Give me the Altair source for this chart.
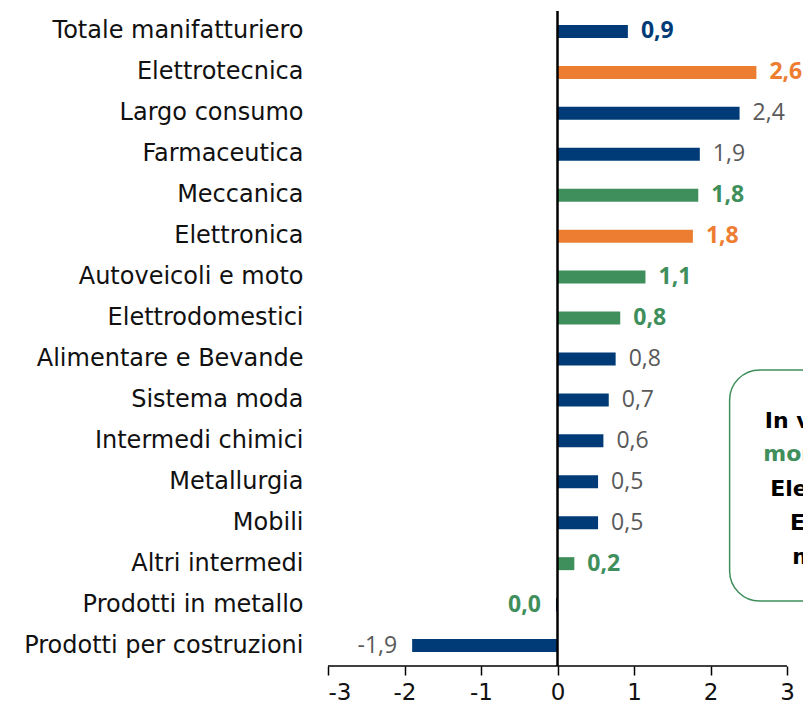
import altair as alt
import pandas as pd

categories = [
    "Totale manifatturiero", "Elettrotecnica", "Largo consumo", "Farmaceutica",
    "Meccanica", "Elettronica", "Autoveicoli e moto", "Elettrodomestici",
    "Alimentare e Bevande", "Sistema moda", "Intermedi chimici", "Metallurgia",
    "Mobili", "Altri intermedi", "Prodotti in metallo", "Prodotti per costruzioni",
]
values = [0.92, 2.6, 2.38, 1.86, 1.84, 1.77, 1.15, 0.82, 0.76, 0.67, 0.6, 0.53, 0.53, 0.22, -0.02, -1.9]
value_labels = ["0,9", "2,6", "2,4", "1,9", "1,8", "1,8", "1,1", "0,8", "0,8", "0,7", "0,6", "0,5", "0,5", "0,2", "0,0", "-1,9"]

NAVY, ORANGE, GREEN, GRAY = "#003B77", "#ED7D31", "#3F8F5C", "#595959"
bar_colors = [NAVY, ORANGE, NAVY, NAVY, GREEN, ORANGE, GREEN, GREEN, NAVY, NAVY, NAVY, NAVY, NAVY, GREEN, NAVY, NAVY]
label_colors = [NAVY, ORANGE, GRAY, GRAY, GREEN, ORANGE, GREEN, GREEN, GRAY, GRAY, GRAY, GRAY, GRAY, GREEN, GREEN, GRAY]
label_bold = [True, True, False, False, True, True, True, True, False, False, False, False, False, True, True, False]

box_lines = ["In valore", "monitorati", "Elettrotecnica", "Elettronica", "meccanica"]
box_line_colors = ["black", GREEN, "black", "black", "black"]

FONT = "DejaVu Sans"
VFONT = "Open Sans"
W, H = 475, 655

df = pd.DataFrame({
    "cat": categories, "v": values, "lab": value_labels,
    "bc": bar_colors, "lc": label_colors, "bold": label_bold,
})

x_scale = alt.Scale(domain=[-3, 3 + 16 / 76.5], nice=False, zero=False)
y_enc = alt.Y(
    "cat:N", sort=categories, title=None,
    scale=alt.Scale(paddingInner=0.5, paddingOuter=0.25),
    axis=alt.Axis(domain=False, ticks=False, grid=False, labelPadding=25, labelFont=FONT,
                  labelFontSize=24, labelColor="#111111", labelLimit=400),
)
x_enc = alt.X(
    "v:Q", scale=x_scale, title=None,
    axis=alt.Axis(values=[-3, -2, -1, 0, 1, 2, 3], domain=False, grid=False,
                  ticks=True, tickSize=9, tickColor="black", tickWidth=1.5,
                  labelFont=FONT, labelFontSize=23, labelColor="#111111",
                  labelPadding=6, labelExpr="'' + datum.value"),
)

base = alt.Chart(df)

bars = base.mark_bar(size=13).encode(
    x=x_enc, y=y_enc, color=alt.Color("bc:N", scale=None)
)


def value_text(positive, bold):
    cond = f"datum.v {'>=' if positive else '<'} 0 && {'datum.bold' if bold else '!datum.bold'}"
    return base.transform_filter(cond).mark_text(
        align="left" if positive else "right",
        dx=13 if positive else -15,
        font=VFONT, fontSize=23,
        fontWeight="bold" if bold else "normal",
        baseline="middle",
    ).encode(
        x="v:Q", y=alt.Y("cat:N", sort=categories),
        text="lab:N", color=alt.Color("lc:N", scale=None),
    )


texts = [value_text(p, b) for p in (True, False) for b in (True, False)]

one = alt.Data(values=[{}])

zero_rule = alt.Chart(one).mark_rule(color="black", strokeWidth=2.5).encode(
    x=alt.datum(0), y=alt.value(0), y2=alt.value(H)
)
axis_rule = alt.Chart(one).mark_rule(color="black", strokeWidth=1.5).encode(
    x=alt.datum(-3), x2=alt.datum(3), y=alt.value(H)
)

box = alt.Chart(one).mark_rect(
    clip=True, cornerRadius=30, stroke=GREEN, strokeWidth=1.5, fill="white"
).encode(
    x=alt.datum(2.25), x2=alt.datum(4.2), y=alt.value(359), y2=alt.value(590)
)

box_x = [2.71, 2.69, 2.78, 3.04, 3.07]
box_y = [417, 450, 485, 519, 553]
box_texts = [
    alt.Chart(one).mark_text(
        clip=True, align="left", baseline="alphabetic", font=FONT, fontSize=22,
        fontWeight="bold", color=c, text=t,
    ).encode(x=alt.datum(bx), y=alt.value(by))
    for t, c, bx, by in zip(box_lines, box_line_colors, box_x, box_y)
]

chart = alt.layer(bars, box, *box_texts, zero_rule, axis_rule, *texts).properties(
    width=W, height=H,
    background="white",
    autosize=alt.AutoSizeParams(type="none"),
    padding={"left": 320, "top": 3, "right": 0, "bottom": 37},
).configure_view(stroke="transparent", strokeWidth=0)

chart.save("out.html", embed_options={"renderer": "svg", "actions": False})
